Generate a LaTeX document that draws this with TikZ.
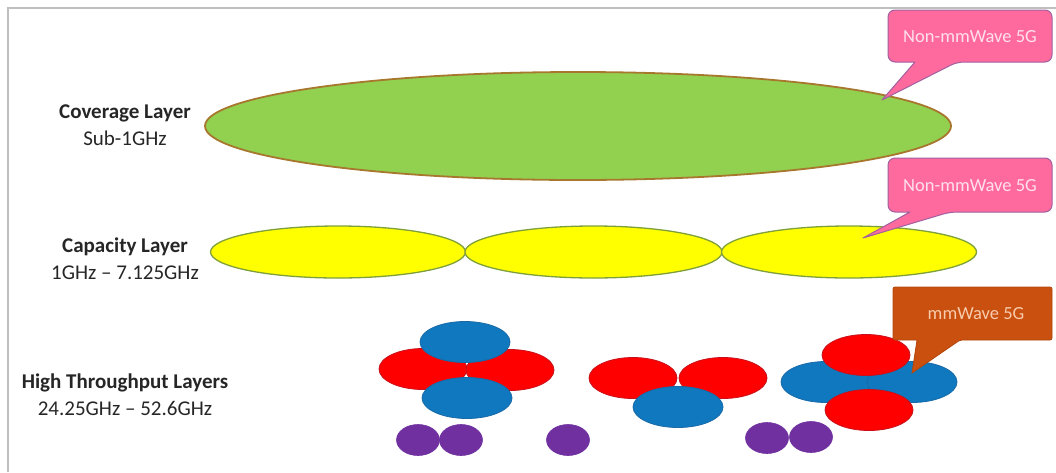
\documentclass[tikz,border=0pt]{standalone}
\usepackage{fontspec}
\setmainfont{Carlito}
\usetikzlibrary{shapes.geometric}
\definecolor{framegray}{HTML}{BFBFBF}
\definecolor{cgreen}{HTML}{92D050}
\definecolor{cgreenb}{HTML}{A8772E}
\definecolor{cyellow}{HTML}{FFFF00}
\definecolor{cyellowb}{HTML}{7F9F3A}
\definecolor{cred}{HTML}{FF0000}
\definecolor{credb}{HTML}{C8101A}
\definecolor{cblue}{HTML}{0F78BE}
\definecolor{cblueb}{HTML}{1A6AA8}
\definecolor{cpurple}{HTML}{7030A0}
\definecolor{cpink}{HTML}{FF6A9E}
\definecolor{cpinkb}{HTML}{A0609E}
\definecolor{cpinkt}{HTML}{FFE0EC}
\definecolor{corange}{HTML}{C9500F}
\definecolor{corangeb}{HTML}{B2460C}
\definecolor{corangeт}{HTML}{F8CBAD}
\definecolor{ctext}{HTML}{262626}
\begin{document}
\begin{tikzpicture}[x=1pt,y=-1pt,
  cell/.style={ellipse,inner sep=0pt,outer sep=0pt},
  greencell/.style={cell,fill=cgreen,draw=cgreenb,line width=1.8pt},
  yellowcell/.style={cell,fill=cyellow,draw=cyellowb,line width=1.3pt,minimum width=255pt,minimum height=52pt},
  redcell/.style={cell,fill=cred,draw=credb,line width=0.8pt,minimum width=88pt,minimum height=41pt},
  bluecell/.style={cell,fill=cblue,draw=cblueb,line width=0.8pt,minimum width=90pt,minimum height=41pt},
  purplecell/.style={cell,fill=cpurple,draw=cpurple,line width=0.6pt,minimum width=43pt,minimum height=31pt},
  lbl/.style={text=ctext,inner sep=0pt,font=\fontsize{21}{24}\selectfont},
  pinkbox/.style={fill=cpink,draw=cpinkb,line width=1pt,line join=round},
  orangebox/.style={fill=corange,draw=corangeb,line width=0.8pt},
  ctxt/.style={inner sep=0pt,font=\fontsize{18.5}{22}\selectfont}
]
\useasboundingbox (0,0) rectangle (1056,472);
% frame
\draw[framegray,line width=2pt] (8,472) -- (8,8) -- (1056,8);

% labels
\node[lbl] (covl) at (125,113) {\bfseries Coverage Layer};
\node[lbl] (covf) at (125,138) {Sub-1GHz};
\node[lbl] (capl) at (125,247) {\bfseries Capacity Layer};
\node[lbl] (capf) at (125,273) {1GHz – 7.125GHz};
\node[lbl] (htl) at (125,383) {\bfseries High Throughput Layers};
\node[lbl] (htf) at (125,408) {24.25GHz – 52.6GHz};

% coverage layer
\node[greencell,minimum width=746pt,minimum height=108pt] (cov) at (578,126) {};

% capacity layer
\node[yellowcell] (cap1) at (338,252) {};
\node[yellowcell,minimum width=257pt] (cap2) at (593.5,252) {};
\node[yellowcell] (cap3) at (849,252) {};

% high throughput group 1
\node[redcell] (r1a) at (423,369) {};
\node[redcell] (r1b) at (510,370) {};
\node[bluecell] (b1a) at (465,342) {};
\node[bluecell] (b1b) at (467,398) {};
% group 2
\node[redcell] (r2a) at (633,378) {};
\node[redcell] (r2b) at (723,378) {};
\node[bluecell] (b2a) at (678,407) {};
% group 3
\node[bluecell] (b3a) at (826,382) {};
\node[bluecell] (b3b) at (912,382) {};
\node[redcell] (r3a) at (866,355) {};
\node[redcell] (r3b) at (869,410) {};
% small cells
\node[purplecell] (p1) at (418,440) {};
\node[purplecell] (p2) at (461,440) {};
\node[purplecell] (p3) at (568,440) {};
\node[purplecell] (p4) at (767,438) {};
\node[purplecell] (p5) at (811,437) {};

% callouts
\coordinate (t1) at (882,100);
\coordinate (t2) at (863,238);
\coordinate (t3) at (912,373);
\draw[pinkbox] (970,10) [rounded corners=7pt] -- (1052,10) -- (1052,62) -- (957,62)
  [sharp corners] -- (t1) -- (915,62) [rounded corners=7pt] -- (888,62) -- (888,10) -- cycle;
\node[ctxt,text=cpinkt] (c1) at (970,37) {Non-mmWave 5G};
\draw[pinkbox] (970,158) [rounded corners=7pt] -- (1052,158) -- (1052,212) -- (950,212)
  [sharp corners] -- (t2) -- (910,212) [rounded corners=7pt] -- (888,212) -- (888,158) -- cycle;
\node[ctxt,text=cpinkt] (c2) at (970,186) {Non-mmWave 5G};
\draw[orangebox] (970,287) [rounded corners=2pt] -- (1052,287) -- (1052,340) -- (960,340)
  [sharp corners] -- (t3) -- (917,340) [rounded corners=2pt] -- (893,340) -- (893,287) -- cycle;
\node[ctxt,text=corangeт] (c3) at (976,314) {mmWave 5G};
\end{tikzpicture}
\end{document}
